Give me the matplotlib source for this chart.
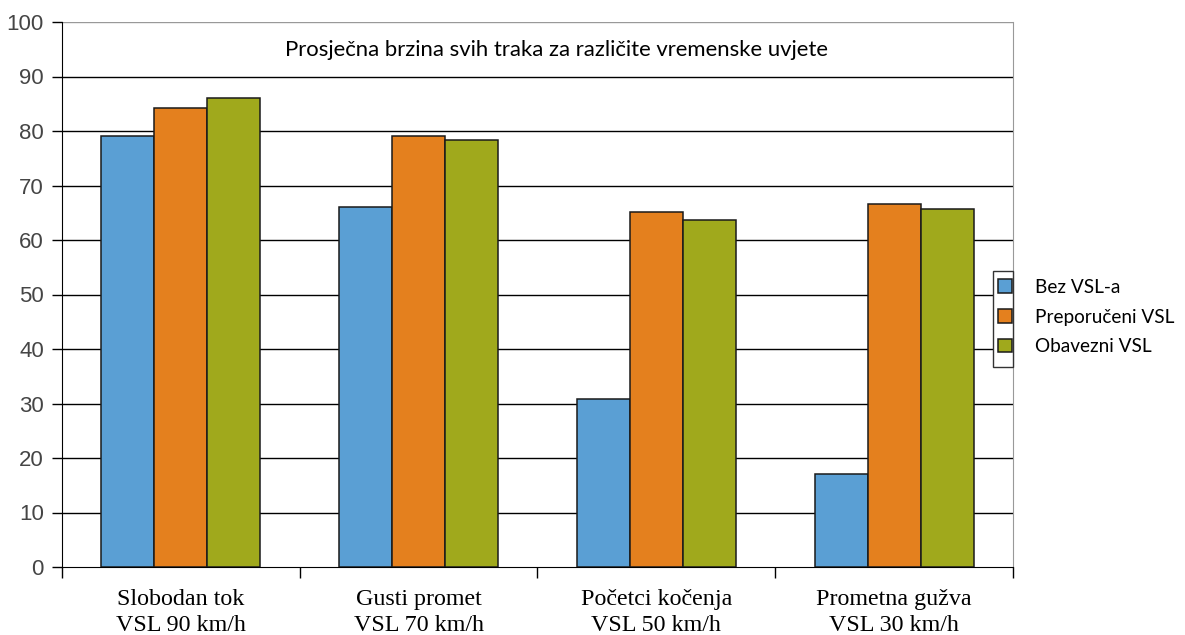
import matplotlib.pyplot as plt
import numpy as np
from matplotlib.patches import Rectangle

categories = ['Slobodan tok\nVSL 90 km/h', 'Gusti promet\nVSL 70 km/h',
              'Početci kočenja\nVSL 50 km/h', 'Prometna gužva\nVSL 30 km/h']
series_names = ['Bez VSL-a', 'Preporučeni VSL', 'Obavezni VSL']
bez_vsl = [79.0, 66.1, 30.9, 17.0]
preporuceni = [84.3, 79.0, 65.1, 66.6]
obavezni = [86.1, 78.4, 63.6, 65.6]
colors = ['#5a9fd4', '#e4801e', '#a0a91c']
title = 'Prosječna brzina svih traka za različite vremenske uvjete'

fig = plt.figure(figsize=(11.85, 6.35), dpi=100)
ax = fig.add_axes([62 / 1185, 1 - 567 / 635, (1013 - 62) / 1185, (567 - 22) / 635])

x = np.arange(len(categories))
w = 0.223
handles = []
for i, (vals, name) in enumerate(zip([bez_vsl, preporuceni, obavezni], series_names)):
    b = ax.bar(x + (i - 1) * w, vals, w, color=colors[i], edgecolor='#1a1a1a',
               linewidth=1.1, label=name, zorder=3)
    handles.append(b)

ax.set_xlim(-0.5, len(categories) - 0.5)
ax.set_ylim(0, 100)
ax.set_yticks(range(0, 101, 10))
for yv in range(10, 100, 10):
    ax.axhline(yv, color='black', linewidth=1.0, zorder=1)
ax.axhline(100, color='#999999', linewidth=1.0, zorder=1)

ax.spines['top'].set_visible(False)
ax.spines['right'].set_color('#999999')
ax.spines['left'].set_color('black')
ax.spines['bottom'].set_color('black')

ax.tick_params(axis='y', direction='out', length=7, width=1, pad=6,
               labelsize=16, labelcolor='#454545')
for t in ax.get_yticklabels():
    t.set_family('Liberation Sans')

ax.set_xticks(np.arange(-0.5, len(categories), 1.0))
ax.set_xticklabels([])
ax.tick_params(axis='x', which='major', direction='out', length=8, width=1)
ax.set_xticks(x, minor=True)
ax.set_xticklabels(categories, minor=True, family='Liberation Serif', fontsize=17.3,
                   linespacing=1.3)
ax.tick_params(axis='x', which='minor', length=0, pad=16)

ax.text(0.52, 0.949, title, transform=ax.transAxes, ha='center', va='center',
        family='Lato', fontsize=15.9)

# legend box (partly hidden at the plot edge)
box = Rectangle((993 / 1185, 1 - 367 / 635), 20 / 1185, 96 / 635,
                transform=fig.transFigure, facecolor='white', edgecolor='#333333',
                linewidth=1.0, zorder=5)
fig.patches.append(box)
leg = fig.legend(handles=handles, labels=series_names, loc='center left',
                 bbox_to_anchor=(998 / 1185, 1 - 317 / 635), frameon=False,
                 prop={'family': 'Lato', 'size': 13.7}, handlelength=0.75,
                 handleheight=0.7, handletextpad=1.2, labelspacing=0.68,
                 borderpad=0, borderaxespad=0)

fig.savefig('out.png', dpi=100)
